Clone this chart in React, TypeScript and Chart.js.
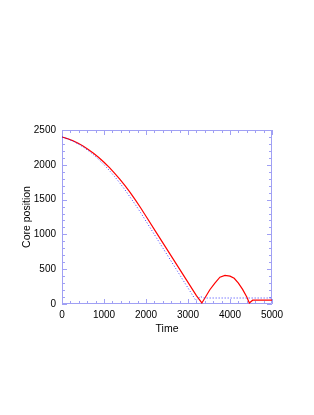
import React, { useEffect, useRef } from "react";
import { Chart, registerables } from "chart.js";

Chart.register(...registerables);

const redTimes = [0, 125, 250, 375, 500, 625, 750, 875, 1000, 1125, 1250, 1375, 1500, 1625, 1750, 1875, 2000, 2250, 2500, 2750, 3000, 3200, 3330, 3520, 3640, 3760, 3880, 4000, 4100, 4200, 4300, 4400, 4460, 4540, 5000];
const redValues = [2400, 2377, 2348, 2312, 2270, 2221, 2166, 2105, 2037, 1962, 1881, 1794, 1700, 1600, 1493, 1380, 1260, 1022, 785, 547, 310, 120, 15, 205, 300, 385, 410, 400, 370, 300, 210, 100, 15, 55, 55];

const blueTimes = [0, 125, 250, 375, 500, 625, 750, 875, 1000, 1125, 1250, 1375, 1500, 1625, 1750, 1875, 2000, 2250, 2500, 2750, 3000, 3190, 3290, 3380, 5000];
const blueValues = [2400, 2375, 2343, 2304, 2258, 2204, 2144, 2077, 2002, 1920, 1833, 1740, 1640, 1532, 1425, 1310, 1190, 950, 710, 470, 230, 48, 108, 86, 86];

const xTickStep = 1000;
const xMinorStep = 200;
const yTickStep = 500;
const yMinorStep = 100;
const xMax = 5000;
const yMax = 2500;

const AXIS_COLOR = "#a0a0f4";
const FONT = "'Liberation Sans', Arial, sans-serif";

const framePlugin = {
  id: "frameTicks",
  beforeDatasetsDraw(chart: any) {
    const { ctx, chartArea } = chart;
    const xs = chart.scales.x;
    const ys = chart.scales.y;
    const { left, right, top, bottom } = chartArea;
    ctx.save();
    ctx.strokeStyle = AXIS_COLOR;
    ctx.lineWidth = 1;
    ctx.beginPath();
    ctx.rect(left + 0.5, top + 0.5, right - left - 1, bottom - top - 1);
    ctx.stroke();
    ctx.beginPath();
    for (let v = 0; v <= xMax; v += xMinorStep) {
      const px = Math.round(xs.getPixelForValue(v)) + 0.5;
      const len = v % xTickStep === 0 ? 5 : 3;
      ctx.moveTo(px, bottom);
      ctx.lineTo(px, bottom - len);
      ctx.moveTo(px, top);
      ctx.lineTo(px, top + len);
    }
    for (let v = 0; v <= yMax; v += yMinorStep) {
      const py = Math.round(ys.getPixelForValue(v)) + 0.5;
      const len = v % yTickStep === 0 ? 5 : 3;
      ctx.moveTo(left, py);
      ctx.lineTo(left + len, py);
      ctx.moveTo(right, py);
      ctx.lineTo(right - len, py);
    }
    ctx.stroke();
    ctx.restore();
  },
};

export default function App() {
  const ref = useRef<HTMLCanvasElement | null>(null);
  useEffect(() => {
    if (!ref.current) return;
    const chart = new Chart(ref.current, {
      type: "line",
      data: {
        datasets: [
          {
            data: blueTimes.map((t, i) => ({ x: t, y: blueValues[i] })),
            borderColor: "#3a3aff",
            borderWidth: 1,
            borderDash: [1, 2],
            pointRadius: 0,
            tension: 0,
            fill: false,
          },
          {
            data: redTimes.map((t, i) => ({ x: t, y: redValues[i] })),
            borderColor: "#ff0000",
            borderWidth: 1.2,
            pointRadius: 0,
            tension: 0,
            fill: false,
          },
        ],
      },
      options: {
        animation: false,
        responsive: false,
        maintainAspectRatio: false,
        layout: { padding: { top: 130, right: 42, bottom: 70, left: 0 } },
        plugins: { legend: { display: false }, tooltip: { enabled: false } },
        scales: {
          x: {
            type: "linear",
            min: 0,
            max: xMax,
            grid: { display: false, drawTicks: false },
            border: { display: false },
            ticks: { stepSize: xTickStep, padding: 5, color: "#000", font: { family: FONT, size: 10 }, maxRotation: 0, callback: (v: any) => String(v) },
            title: { display: true, text: "Time", color: "#000", font: { family: FONT, size: 10.5 }, padding: { top: 0, bottom: 10 } },
            afterFit(scale: any) {
              scale.height = 41;
            },
          },
          y: {
            type: "linear",
            min: 0,
            max: yMax,
            grid: { display: false, drawTicks: false },
            border: { display: false },
            ticks: { stepSize: yTickStep, padding: 6, color: "#000", font: { family: FONT, size: 10 }, callback: (v: any) => String(v) },
            title: { display: true, text: "Core position", color: "#000", font: { family: FONT, size: 10.5 }, padding: { top: 21, bottom: 0 } },
            afterFit(scale: any) {
              scale.width = 62;
            },
          },
        },
      },
      plugins: [framePlugin],
    });
    return () => chart.destroy();
  }, []);
  return (
    <div style={{ position: "fixed", left: 0, top: 0, width: 314, height: 415, background: "#fff" }}>
      <canvas ref={ref} width={314} height={415} style={{ width: 314, height: 415, display: "block" }} />
    </div>
  );
}
